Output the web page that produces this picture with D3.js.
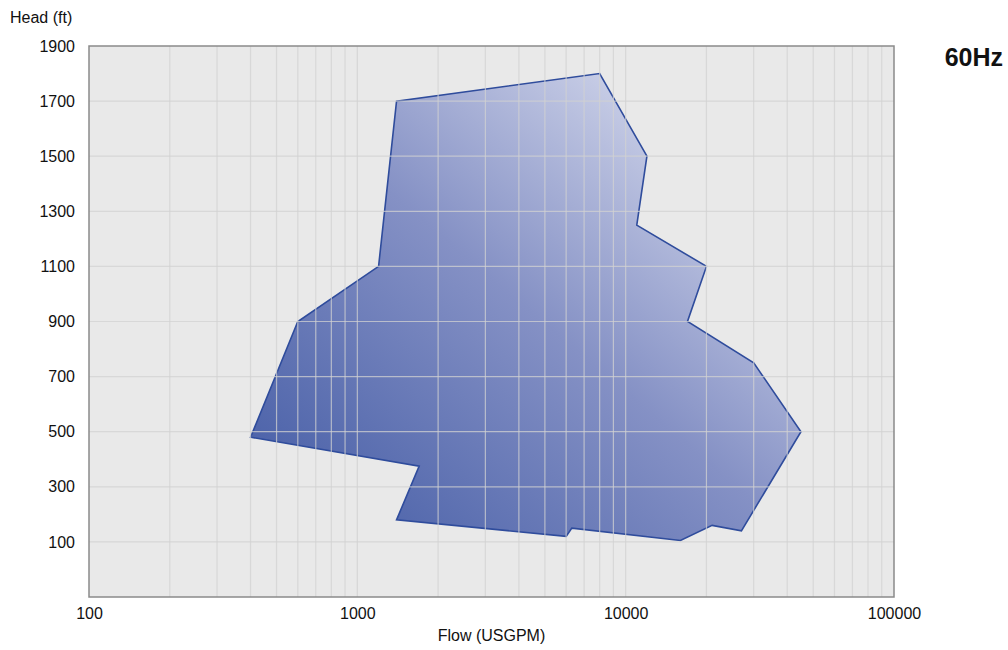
<!DOCTYPE html>
<html>
<head>
<meta charset="utf-8">
<script src="https://cdn.jsdelivr.net/npm/d3@7"></script>
<style>
  body { margin: 0; background: #fff; }
  text { font-family: "Liberation Sans", Arial, sans-serif; fill: #111; }
</style>
</head>
<body>
<div id="vis"></div>
<script>
// envelope outline (flow USGPM, head ft), clockwise from the left tip
var flows = [400, 600, 1200, 1400, 8000, 12000, 11000, 20000, 17000, 30000, 45000, 27000, 21000, 16000, 6300, 6000, 1400, 1700];
var heads = [480, 900, 1100, 1700, 1800, 1500, 1250, 1100, 900, 750, 500, 140, 160, 105, 150, 120, 180, 375];
var yTicks = [100, 300, 500, 700, 900, 1100, 1300, 1500, 1700, 1900];
var xTicks = [100, 1000, 10000, 100000];

var W = 1008, H = 650;
var margin = {top: 46, right: 114, bottom: 53, left: 89};
var pw = W - margin.left - margin.right, ph = H - margin.top - margin.bottom;

var svg = d3.select('#vis').append('svg').attr('width', W).attr('height', H);

var x = d3.scaleLog().domain([100, 100000]).range([0, pw]);
var y = d3.scaleLinear().domain([-100, 1900]).range([ph, 0]);

var defs = svg.append('defs');
var grad = defs.append('linearGradient').attr('id', 'fillGrad')
  .attr('x1', '0%').attr('y1', '100%').attr('x2', '100%').attr('y2', '0%');
grad.append('stop').attr('offset', '0%').attr('stop-color', '#3f58a3');
grad.append('stop').attr('offset', '50%').attr('stop-color', '#8591c5');
grad.append('stop').attr('offset', '100%').attr('stop-color', '#eceef8');

var g = svg.append('g').attr('transform', 'translate(' + margin.left + ',' + margin.top + ')');

g.append('rect').attr('width', pw).attr('height', ph).attr('fill', '#e9e9e9');

var pts = flows.map(function(f, i) { return [x(f), y(heads[i])]; });
g.append('path')
  .attr('d', d3.line()(pts) + 'Z')
  .attr('fill', 'url(#fillGrad)')
  .attr('stroke', '#2f4c9c')
  .attr('stroke-width', 1.6)
  .attr('stroke-linejoin', 'miter');

// grid drawn over the fill
var minor = [];
for (var d = 100; d < 100000; d *= 10) {
  for (var k = 1; k < 10; k++) minor.push(d * k);
}
var grid = g.append('g').attr('stroke', '#d2d2d2').attr('stroke-opacity', 0.75).attr('stroke-width', 1.2);
grid.selectAll('.vx').data(minor.filter(function(v) { return v > 100; }))
  .enter().append('line')
  .attr('x1', function(v) { return x(v); }).attr('x2', function(v) { return x(v); })
  .attr('y1', 0).attr('y2', ph);
grid.selectAll('.hy').data(yTicks.filter(function(v) { return v < 1900; }))
  .enter().append('line')
  .attr('y1', function(v) { return y(v); }).attr('y2', function(v) { return y(v); })
  .attr('x1', 0).attr('x2', pw);

g.append('rect').attr('width', pw).attr('height', ph)
  .attr('fill', 'none').attr('stroke', '#8a8a8a').attr('stroke-width', 1.5);

// axis labels
var yAxis = g.append('g').call(d3.axisLeft(y).tickValues(yTicks).tickSize(0).tickPadding(14).tickFormat(d3.format('d')));
yAxis.select('.domain').remove();
yAxis.selectAll('text').style('font-size', '16px').attr('fill', '#111');

var xAxis = g.append('g').attr('transform', 'translate(0,' + ph + ')')
  .call(d3.axisBottom(x).tickValues(xTicks).tickSize(0).tickPadding(11).tickFormat(d3.format('d')));
xAxis.select('.domain').remove();
xAxis.selectAll('text').style('font-size', '16px').attr('fill', '#111');

svg.append('text').attr('x', 10).attr('y', 23).style('font-size', '16px').text('Head (ft)');
svg.append('text').attr('x', margin.left + pw / 2).attr('y', 641).attr('text-anchor', 'middle')
  .style('font-size', '16px').text('Flow (USGPM)');
svg.append('text').attr('x', 1003).attr('y', 66).attr('text-anchor', 'end')
  .style('font-size', '25px').style('font-weight', 'bold').text('60Hz');
</script>
</body>
</html>
